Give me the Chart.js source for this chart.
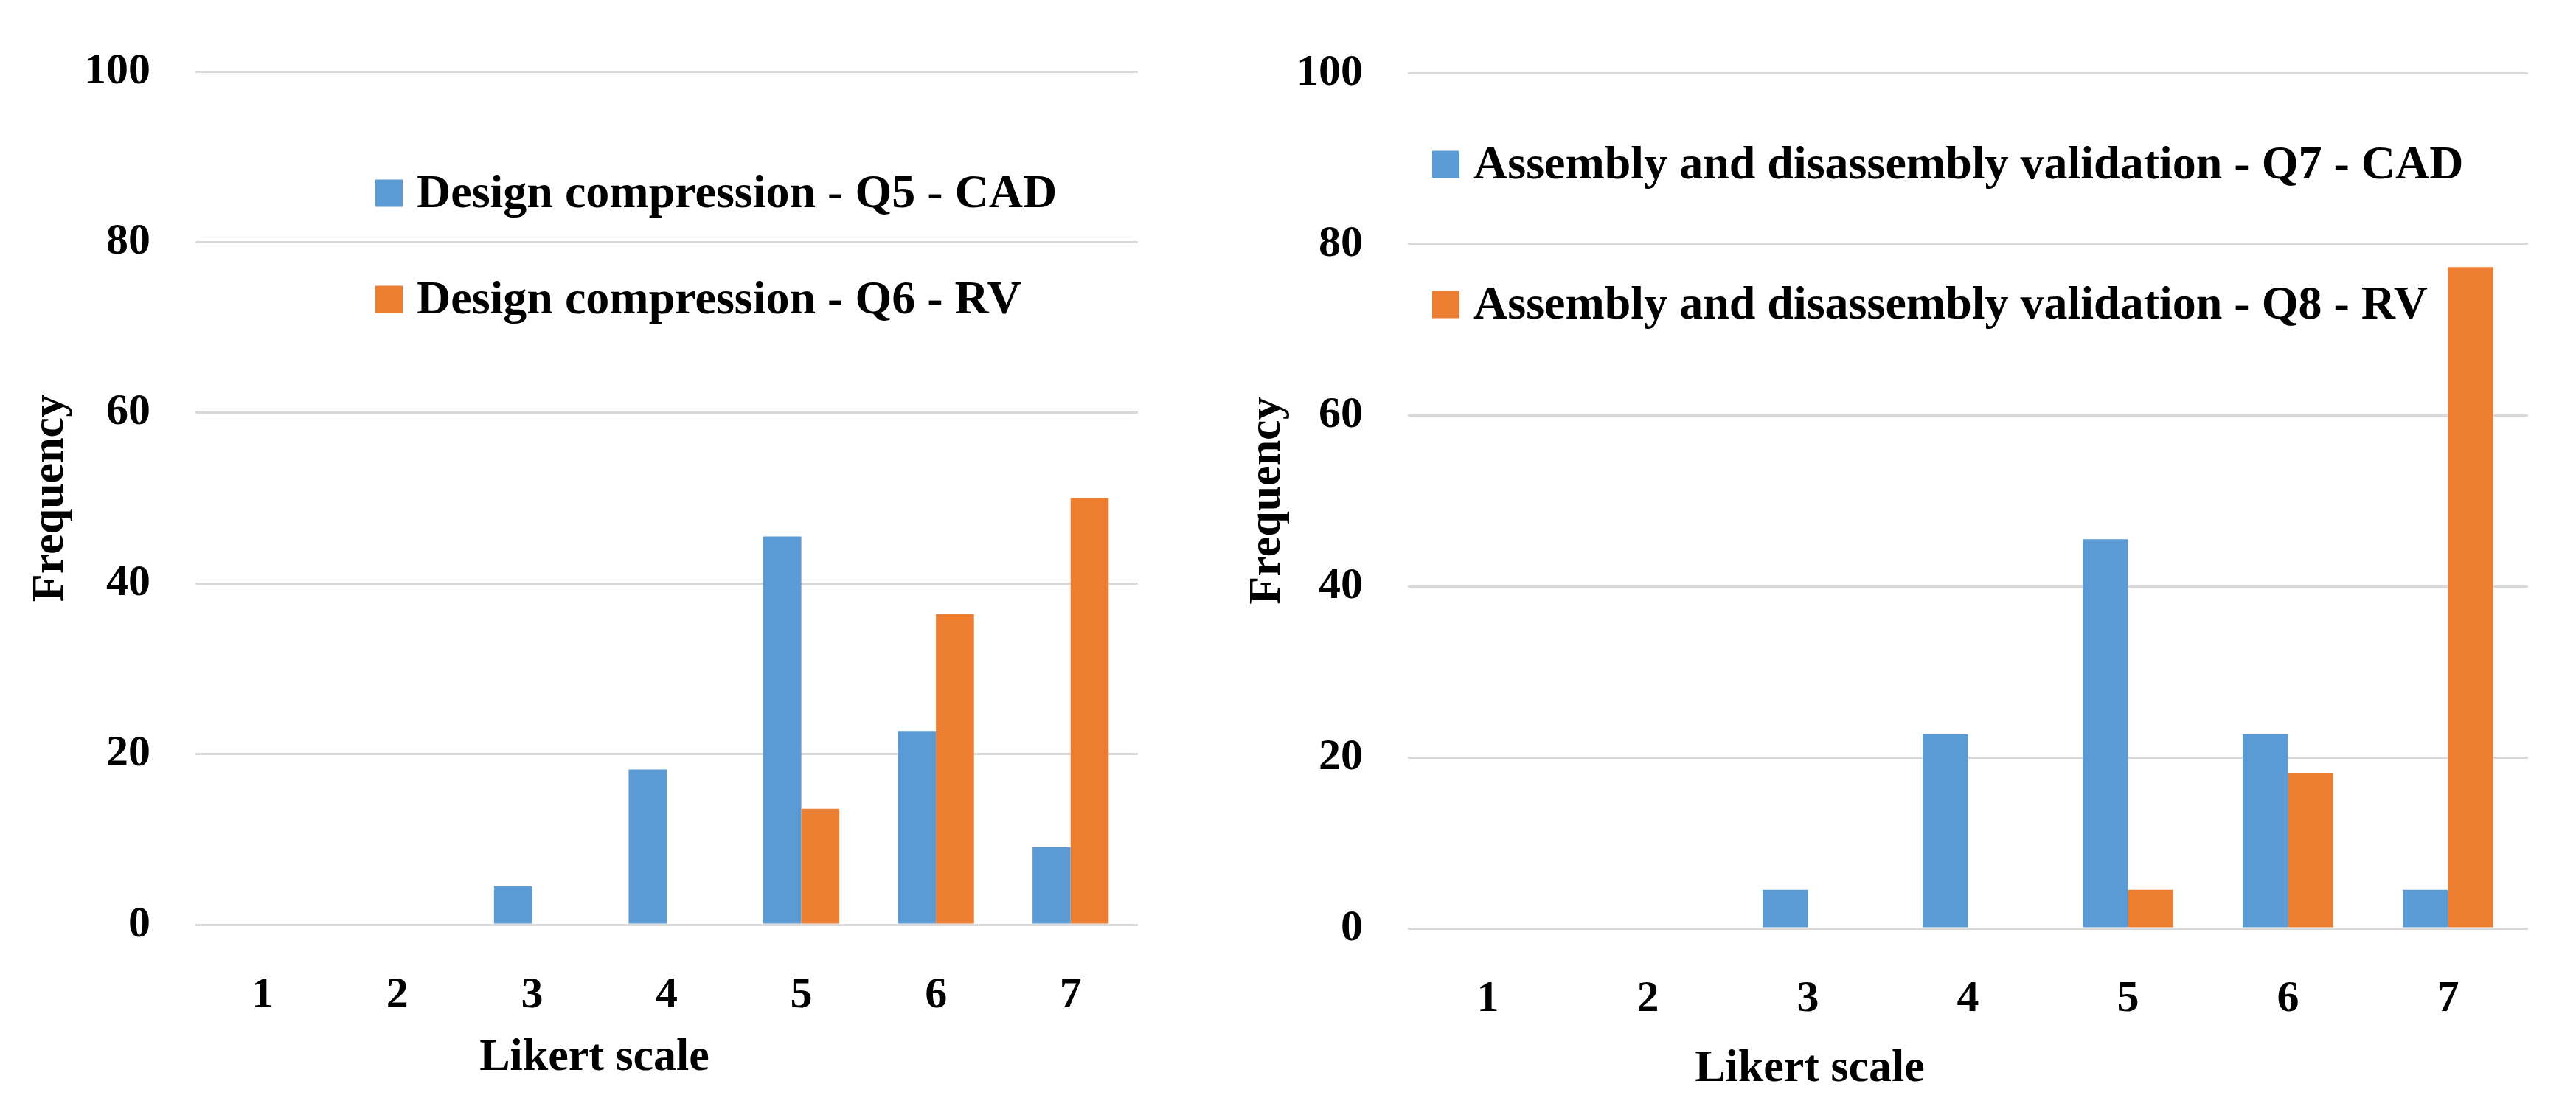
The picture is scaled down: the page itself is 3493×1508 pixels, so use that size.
<!DOCTYPE html>
<html>
<head>
<meta charset="utf-8">
<script src="https://cdn.jsdelivr.net/npm/chart.js@4.4.1/dist/chart.umd.min.js"></script>
<style>
  html, body { margin: 0; padding: 0; background: #fff; }
  #page { position: relative; width: 3493px; height: 1508px; overflow: hidden; }
  .box { position: absolute; top: 0; height: 1508px; }
  #leftBox { left: 0; width: 1680px; }
  #rightBox { left: 1680px; width: 1813px; }
</style>
</head>
<body>
<div id="page">
  <div class="box" id="leftBox"><canvas id="leftChart"></canvas></div>
  <div class="box" id="rightBox"><canvas id="rightChart"></canvas></div>
</div>
<script>
const likertLabels = ['1', '2', '3', '4', '5', '6', '7'];
const yTicks = [0, 20, 40, 60, 80, 100];

const q5Label = 'Design compression - Q5 - CAD';
const q6Label = 'Design compression - Q6 - RV';
const q5Values = [0, 0, 4.5, 18.2, 45.5, 22.7, 9.1];
const q6Values = [0, 0, 0, 0, 13.6, 36.4, 50.0];

const q7Label = 'Assembly and disassembly validation - Q7 - CAD';
const q8Label = 'Assembly and disassembly validation - Q8 - RV';
const q7Values = [0, 0, 4.5, 22.7, 45.5, 22.7, 4.5];
const q8Values = [0, 0, 0, 0, 4.5, 18.2, 77.3];

const BLUE = '#5B9BD5';
const ORANGE = '#ED7D31';
const FONT = '"Liberation Serif", "Times New Roman", serif';

Chart.defaults.font.family = FONT;
Chart.defaults.font.weight = 'bold';
Chart.defaults.color = '#000';

// legend drawn inside the plot, two stacked rows
const insideLegend = {
  id: 'insideLegend',
  afterDraw(chart, args, opts) {
    const {ctx, chartArea} = chart;
    ctx.save();
    ctx.font = 'bold ' + opts.fontSize + 'px ' + FONT;
    ctx.textBaseline = 'middle';
    ctx.textAlign = 'left';
    chart.data.datasets.forEach((ds, i) => {
      const x = chartArea.left + opts.dx;
      const y = chartArea.top + opts.dy + i * opts.gap;
      ctx.fillStyle = ds.backgroundColor;
      ctx.fillRect(x, y - opts.box / 2, opts.box, opts.box);
      ctx.fillStyle = '#000';
      ctx.fillText(ds.label, x + opts.box + 19, y + 2);
    });
    ctx.restore();
  }
};

// x axis title, not centred in the original
const xTitle = {
  id: 'xTitle',
  afterDraw(chart, args, opts) {
    const {ctx, chartArea} = chart;
    ctx.save();
    ctx.font = 'bold ' + opts.fontSize + 'px ' + FONT;
    ctx.textAlign = 'center';
    ctx.textBaseline = 'alphabetic';
    ctx.fillStyle = '#000';
    ctx.fillText(opts.text, chartArea.left + opts.dx, chartArea.bottom + opts.dy);
    ctx.restore();
  }
};

function makeChart(id, labels, sets, cfg) {
  return new Chart(document.getElementById(id), {
    type: 'bar',
    data: {
      labels: labels,
      datasets: sets.map(s => ({
        label: s.label,
        data: s.data,
        backgroundColor: s.color,
        borderWidth: 0,
        categoryPercentage: 0.565,
        barPercentage: 1.0
      }))
    },
    plugins: [insideLegend, xTitle],
    options: {
      responsive: true,
      maintainAspectRatio: false,
      animation: false,
      devicePixelRatio: 1,
      layout: { padding: cfg.padding },
      plugins: {
        legend: { display: false },
        tooltip: { enabled: false },
        insideLegend: cfg.legend,
        xTitle: { text: 'Likert scale', fontSize: 62, dx: cfg.xTitleDx, dy: cfg.xTitleDy }
      },
      scales: {
        x: {
          grid: { display: false },
          border: { display: false },
          ticks: { font: { size: 60 }, padding: 52, color: '#000' },
          afterFit(scale) { scale.height = 150; }
        },
        y: {
          min: 0,
          max: 100,
          afterBuildTicks(scale) { scale.ticks = yTicks.map(v => ({ value: v })); },
          grid: { color: '#D9D9D9', lineWidth: 3, drawTicks: false },
          border: { display: false },
          ticks: { font: { size: 60 }, padding: 61, color: '#000' },
          title: {
            display: true,
            text: 'Frequency',
            font: { size: 62, weight: 'bold' },
            color: '#000',
            padding: { top: cfg.yTitlePad, bottom: 0 }
          },
          afterFit(scale) { scale.width = cfg.yWidth; }
        }
      }
    }
  });
}

makeChart('leftChart', likertLabels,
  [{ label: q5Label, data: q5Values, color: BLUE },
   { label: q6Label, data: q6Values, color: ORANGE }],
  {
    padding: { left: 20, right: 137, top: 95, bottom: 104 },
    yWidth: 245,
    yTitlePad: 12,
    legend: { fontSize: 64, box: 37, dx: 244, dy: 165, gap: 144 },
    xTitleDx: 541,
    xTitleDy: 197
  });

makeChart('rightChart', likertLabels,
  [{ label: q7Label, data: q7Values, color: BLUE },
   { label: q8Label, data: q8Values, color: ORANGE }],
  {
    padding: { left: 0, right: 65, top: 99, bottom: 99 },
    yWidth: 229,
    yTitlePad: 2,
    legend: { fontSize: 64, box: 37, dx: 33, dy: 124, gap: 190 },
    xTitleDx: 545,
    xTitleDy: 207
  });
</script>
</body>
</html>
